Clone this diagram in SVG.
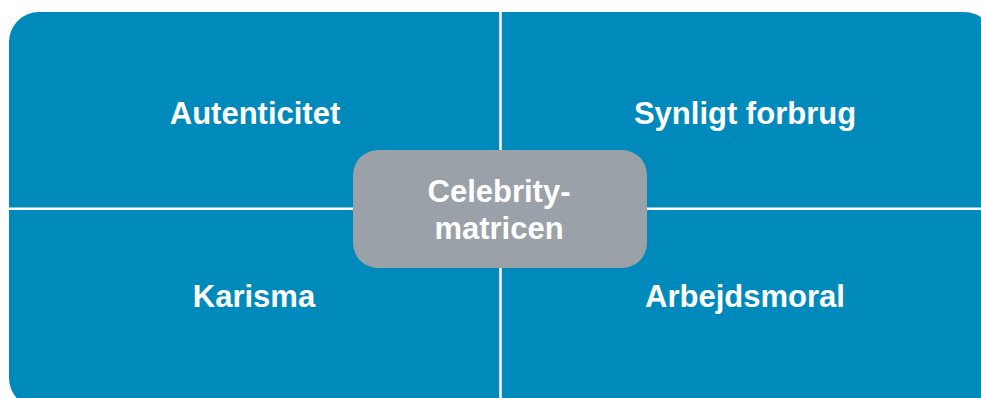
<svg xmlns="http://www.w3.org/2000/svg" width="981" height="398" viewBox="0 0 981 398">
<style>
.lbl{font-family:"Liberation Sans",Arial,Helvetica,sans-serif;font-weight:bold;font-size:31px;fill:#ffffff;text-anchor:middle}
.grid{stroke:#ffffff;stroke-width:2.5;fill:none}
</style>
<rect width="981" height="398" fill="#ffffff"/>
<g id="background">
<rect x="9" y="12" width="985" height="396" rx="30" ry="30" fill="#008abc"/>
</g>
<g id="connectors">
<line class="grid" x1="500.5" y1="12" x2="500.5" y2="398"/>
<line class="grid" x1="9" y1="208.7" x2="981" y2="208.7"/>
</g>
<g id="q1"><text class="lbl" x="255" y="124">Autenticitet</text></g>
<g id="q2"><text class="lbl" x="745" y="124">Synligt forbrug</text></g>
<g id="q3"><text class="lbl" x="254" y="307">Karisma</text></g>
<g id="q4"><text class="lbl" x="745" y="307">Arbejdsmoral</text></g>
<g id="center">
<rect x="353" y="150" width="294" height="118" rx="25" ry="25" fill="#9aa1a8"/>
<text class="lbl" x="499" y="202">Celebrity-</text>
<text class="lbl" x="499" y="239">matricen</text>
</g>
</svg>
